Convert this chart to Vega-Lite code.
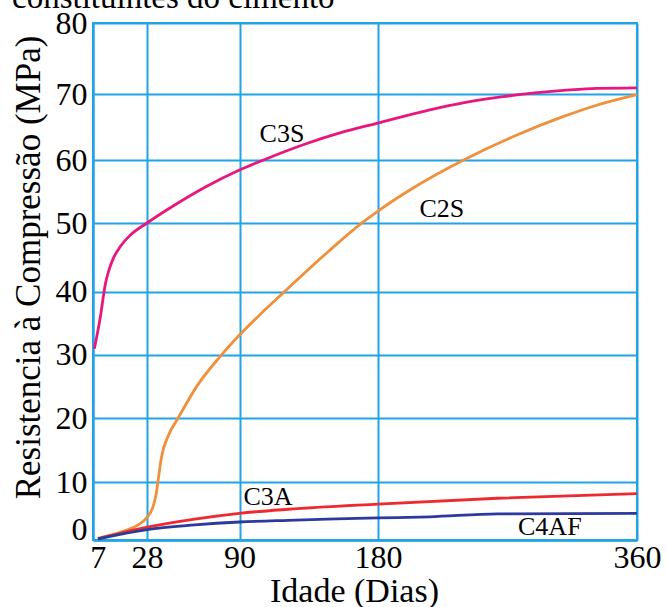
{
  "$schema": "https://vega.github.io/schema/vega-lite/v6.json",
  "autosize": {"type": "none"},
  "padding": {"left": 93, "top": 23, "right": 30, "bottom": 67},
  "width": 544,
  "height": 517,
  "background": "white",
  "title": {
    "text": "constituintes do cimento",
    "font": "Liberation Serif",
    "fontSize": 33,
    "fontWeight": "normal",
    "color": "black",
    "anchor": "start",
    "frame": "group",
    "orient": "top",
    "baseline": "bottom",
    "offset": -41,
    "dx": -81
  },
  "config": {
    "view": {"stroke": "#20a4e6", "strokeWidth": 2},
    "font": "Liberation Serif"
  },
  "datasets": {
    "curves": [
      {"serie": "C3S", "dia": 5.55, "mpa": 30.9},
      {"serie": "C3S", "dia": 7.0, "mpa": 33.6},
      {"serie": "C3S", "dia": 8.4, "mpa": 36.6},
      {"serie": "C3S", "dia": 9.4, "mpa": 39.2},
      {"serie": "C3S", "dia": 10.2, "mpa": 41.0},
      {"serie": "C3S", "dia": 11.5, "mpa": 42.8},
      {"serie": "C3S", "dia": 13.6, "mpa": 44.8},
      {"serie": "C3S", "dia": 16.5, "mpa": 46.5},
      {"serie": "C3S", "dia": 20.8, "mpa": 48.2},
      {"serie": "C3S", "dia": 28, "mpa": 50.0},
      {"serie": "C3S", "dia": 45.5, "mpa": 52.7},
      {"serie": "C3S", "dia": 67.8, "mpa": 55.8},
      {"serie": "C3S", "dia": 90, "mpa": 58.4},
      {"serie": "C3S", "dia": 112, "mpa": 60.6},
      {"serie": "C3S", "dia": 133.7, "mpa": 62.5},
      {"serie": "C3S", "dia": 155.3, "mpa": 64.1},
      {"serie": "C3S", "dia": 180, "mpa": 65.6},
      {"serie": "C3S", "dia": 216, "mpa": 67.6},
      {"serie": "C3S", "dia": 240, "mpa": 68.7},
      {"serie": "C3S", "dia": 267, "mpa": 69.6},
      {"serie": "C3S", "dia": 309, "mpa": 70.5},
      {"serie": "C3S", "dia": 332, "mpa": 70.8},
      {"serie": "C3S", "dia": 360, "mpa": 70.85},
      {"serie": "C2S", "dia": 7.1, "mpa": 0.3},
      {"serie": "C2S", "dia": 17.1, "mpa": 1.4},
      {"serie": "C2S", "dia": 24.2, "mpa": 2.6},
      {"serie": "C2S", "dia": 28, "mpa": 3.9},
      {"serie": "C2S", "dia": 32, "mpa": 5.7},
      {"serie": "C2S", "dia": 34.2, "mpa": 8.0},
      {"serie": "C2S", "dia": 35.3, "mpa": 10.0},
      {"serie": "C2S", "dia": 37.8, "mpa": 14.0},
      {"serie": "C2S", "dia": 42.2, "mpa": 17.2},
      {"serie": "C2S", "dia": 48.9, "mpa": 20.0},
      {"serie": "C2S", "dia": 61.1, "mpa": 24.9},
      {"serie": "C2S", "dia": 76.7, "mpa": 29.6},
      {"serie": "C2S", "dia": 90, "mpa": 33.1},
      {"serie": "C2S", "dia": 103.6, "mpa": 36.4},
      {"serie": "C2S", "dia": 118, "mpa": 39.7},
      {"serie": "C2S", "dia": 147, "mpa": 45.7},
      {"serie": "C2S", "dia": 170, "mpa": 50.1},
      {"serie": "C2S", "dia": 180, "mpa": 51.9},
      {"serie": "C2S", "dia": 204.7, "mpa": 55.6},
      {"serie": "C2S", "dia": 239.5, "mpa": 60.0},
      {"serie": "C2S", "dia": 274.5, "mpa": 63.6},
      {"serie": "C2S", "dia": 309, "mpa": 66.6},
      {"serie": "C2S", "dia": 332, "mpa": 68.3},
      {"serie": "C2S", "dia": 360, "mpa": 69.9},
      {"serie": "C3A", "dia": 7.1, "mpa": 0.2},
      {"serie": "C3A", "dia": 12, "mpa": 0.7},
      {"serie": "C3A", "dia": 17, "mpa": 1.2},
      {"serie": "C3A", "dia": 22, "mpa": 1.7},
      {"serie": "C3A", "dia": 28, "mpa": 2.2},
      {"serie": "C3A", "dia": 60, "mpa": 3.6},
      {"serie": "C3A", "dia": 90, "mpa": 4.6},
      {"serie": "C3A", "dia": 121.6, "mpa": 5.3},
      {"serie": "C3A", "dia": 180, "mpa": 6.2},
      {"serie": "C3A", "dia": 263, "mpa": 7.2},
      {"serie": "C3A", "dia": 360, "mpa": 8.0},
      {"serie": "C4AF", "dia": 7.1, "mpa": 0.2},
      {"serie": "C4AF", "dia": 17, "mpa": 1.0},
      {"serie": "C4AF", "dia": 28, "mpa": 1.8},
      {"serie": "C4AF", "dia": 60, "mpa": 2.6},
      {"serie": "C4AF", "dia": 90, "mpa": 3.1},
      {"serie": "C4AF", "dia": 121.6, "mpa": 3.4},
      {"serie": "C4AF", "dia": 147, "mpa": 3.6},
      {"serie": "C4AF", "dia": 180, "mpa": 3.8},
      {"serie": "C4AF", "dia": 216, "mpa": 4.0},
      {"serie": "C4AF", "dia": 263, "mpa": 4.5},
      {"serie": "C4AF", "dia": 360, "mpa": 4.6}
    ],
    "labels": [
      {"serie": "C3S", "dia": 117.6, "mpa": 63.9},
      {"serie": "C2S", "dia": 224.4, "mpa": 52.2},
      {"serie": "C3A", "dia": 108.5, "mpa": 7.4},
      {"serie": "C4AF", "dia": 299.4, "mpa": 2.2}
    ]
  },
  "encoding": {
    "x": {
      "field": "dia",
      "type": "quantitative",
      "scale": {"domain": [5, 28, 90, 180, 360], "range": [0, 54, 146.5, 285, 544], "nice": false, "zero": false},
      "axis": {
        "values": [7, 28, 90, 180, 360],
        "title": "Idade (Dias)",
        "grid": true,
        "gridColor": "#20a4e6",
        "gridWidth": 2,
        "gridOpacity": {"condition": {"test": "datum.value === 7", "value": 0}, "value": 1},
        "ticks": false,
        "tickSize": 0,
        "domainColor": "#20a4e6",
        "domainWidth": 2.5,
        "labelFont": "Liberation Serif",
        "labelFontSize": 32,
        "labelColor": "black",
        "labelPadding": 2,
        "labelFlush": false,
        "labelOverlap": false,
        "titleFont": "Liberation Serif",
        "titleFontSize": 34,
        "titleFontWeight": "normal",
        "titleColor": "black",
        "titleX": 261,
        "titleY": 61,
        "titleBaseline": "alphabetic",
        "titleAlign": "center"
      }
    },
    "y": {
      "field": "mpa",
      "type": "quantitative",
      "scale": {"domain": [0, 10, 20, 30, 40, 50, 60, 70, 80], "range": [517, 459, 395, 331.5, 268.5, 200, 137, 71, 0], "nice": false, "zero": false},
      "axis": {
        "values": [0, 10, 20, 30, 40, 50, 60, 70, 80],
        "title": "Resistencia à Compressão (MPa)",
        "grid": true,
        "gridColor": "#20a4e6",
        "gridWidth": 2,
        "ticks": false,
        "tickSize": 0,
        "domainColor": "#20a4e6",
        "domainWidth": 2.5,
        "labelFont": "Liberation Serif",
        "labelFontSize": 32,
        "labelColor": "black",
        "labelPadding": 6,
        "labelOffset": {"condition": {"test": "datum.value === 0", "value": -11}, "value": 0},
        "labelFlush": false,
        "labelOverlap": false,
        "titleFont": "Liberation Serif",
        "titleFontSize": 35,
        "titleFontWeight": "normal",
        "titleColor": "black",
        "titleX": -54,
        "titleY": 244,
        "titleAngle": -90,
        "titleBaseline": "alphabetic",
        "titleAlign": "center"
      }
    }
  },
  "layer": [
    {
      "data": {"name": "curves"},
      "mark": {"type": "line", "strokeWidth": 2.8, "interpolate": "monotone"},
      "encoding": {
        "color": {
          "field": "serie",
          "type": "nominal",
          "scale": {"domain": ["C3S", "C2S", "C3A", "C4AF"], "range": ["#e8177e", "#f0903a", "#ee2a2e", "#2b3a9c"]},
          "legend": null
        },
        "detail": {"field": "serie"}
      }
    },
    {
      "data": {"name": "labels"},
      "mark": {"type": "text", "font": "Liberation Serif", "fontSize": 26, "color": "black", "align": "center", "baseline": "middle"},
      "encoding": {
        "text": {"field": "serie", "type": "nominal"}
      }
    }
  ]
}
